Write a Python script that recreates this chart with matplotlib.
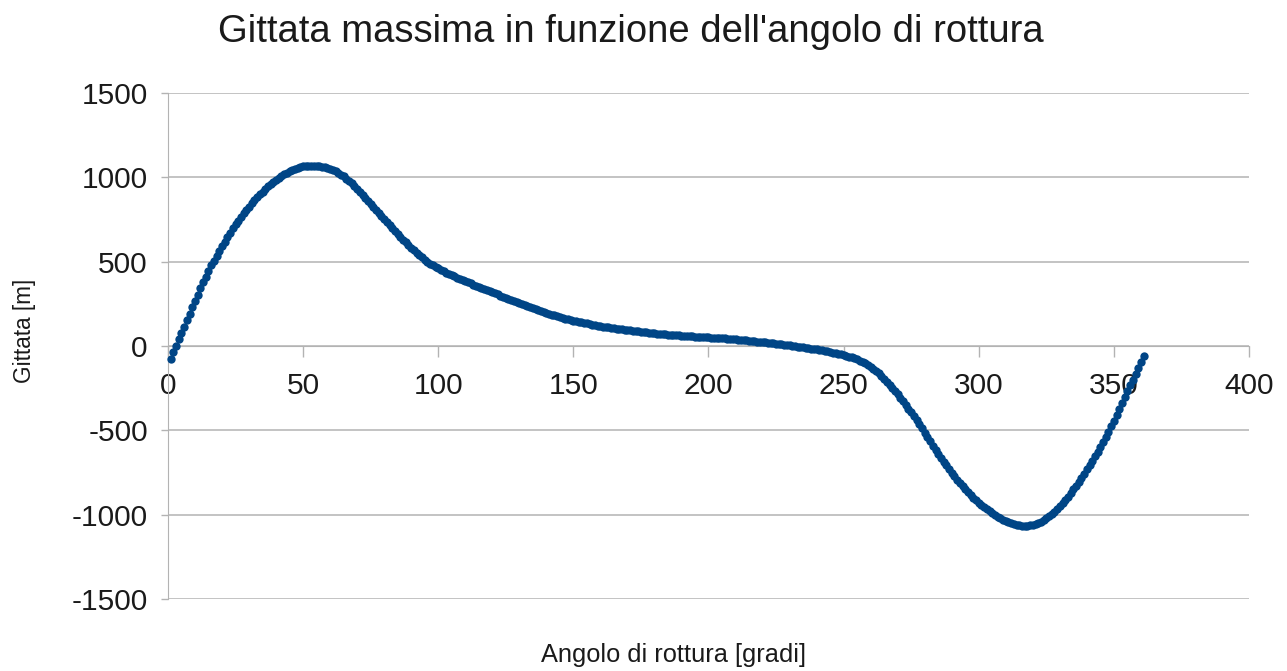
import matplotlib
matplotlib.use("Agg")
import matplotlib.pyplot as plt
import numpy as np

plt.rcParams['font.family'] = ['Liberation Sans', 'DejaVu Sans']
plt.rcParams['axes.unicode_minus'] = False

# --- data (one point per degree, 1..361) ---
angolo = np.arange(1, 362)

gittata = [
    -75, -37, 1, 39, 77, 115, 153, 191, 229, 267,
    304, 341, 377, 412, 446, 478, 506, 535, 563, 591,
    619, 646, 672, 697, 721, 744, 766, 787, 807, 827,
    847, 865, 883, 900, 916, 932, 946, 960, 973, 985,
    997, 1007, 1017, 1028, 1037, 1045, 1051, 1057, 1061, 1065,
    1067, 1069, 1069, 1069, 1068, 1066, 1063, 1059, 1054, 1048,
    1042, 1035, 1026, 1016, 1005, 993, 979, 964, 948, 931,
    914, 897, 879, 861, 843, 825, 807, 789, 771, 753,
    735, 717, 699, 682, 665, 648, 631, 615, 599, 583,
    568, 553, 539, 525, 512, 500, 489, 479, 469, 460,
    451, 443, 435, 427, 420, 413, 406, 399, 392, 385,
    378, 371, 364, 357, 350, 344, 338, 332, 326, 319,
    313, 306, 299, 292, 285, 278, 272, 265, 259, 253,
    247, 241, 235, 229, 223, 217, 212, 206, 201, 196,
    191, 186, 181, 176, 172, 167, 163, 159, 155, 151,
    147, 144, 140, 137, 134, 130, 127, 124, 120, 117,
    115, 112, 110, 108, 105, 103, 101, 98, 96, 94,
    92, 89, 88, 86, 84, 83, 81, 79, 78, 76,
    74, 73, 71, 69, 68, 67, 66, 64, 63, 62,
    61, 60, 59, 58, 56, 55, 54, 53, 52, 51,
    50, 49, 48, 47, 46, 45, 44, 42, 41, 39,
    38, 36, 34, 33, 31, 30, 28, 26, 25, 23,
    21, 19, 17, 15, 13, 11, 9, 7, 5, 3,
    1, -1, -3, -5, -8, -10, -13, -15, -18, -20,
    -23, -26, -29, -32, -35, -39, -42, -46, -50, -54,
    -58, -63, -68, -73, -79, -86, -94, -103, -113, -124,
    -136, -149, -163, -178, -194, -211, -229, -248, -267, -287,
    -307, -328, -349, -371, -393, -415, -438, -462, -487, -513,
    -539, -565, -590, -615, -639, -663, -686, -708, -730, -751,
    -772, -792, -812, -831, -849, -867, -884, -900, -915, -929,
    -943, -956, -968, -980, -991, -1001, -1011, -1020, -1029, -1037,
    -1044, -1050, -1055, -1060, -1064, -1066, -1067, -1066, -1064, -1060,
    -1055, -1049, -1041, -1032, -1022, -1010, -997, -983, -967, -950,
    -932, -913, -893, -872, -850, -828, -805, -781, -757, -732,
    -707, -681, -654, -627, -599, -569, -539, -508, -476, -443,
    -409, -374, -339, -304, -269, -234, -199, -164, -129, -95,
    -61,
]

x_ticks = [0, 50, 100, 150, 200, 250, 300, 350, 400]
y_ticks = [-1500, -1000, -500, 0, 500, 1000, 1500]

titolo = "Gittata massima in funzione dell'angolo di rottura"
label_x = "Angolo di rottura [gradi]"
label_y = "Gittata [m]"

GRID = '#b3b3b3'
BLUE = '#004586'
TEXT = '#1a1a1a'

fig = plt.figure(figsize=(12.87, 6.71), dpi=100)
ax = fig.add_axes([0.1305, 0.1073, 0.84, 0.7541])

ax.plot(angolo, gittata, linestyle='none', marker='o', markersize=6,
        color=BLUE, markeredgewidth=0, clip_on=False, zorder=5)

ax.set_xlim(0, 400)
ax.set_ylim(-1500, 1500)
ax.set_xticks(x_ticks)
ax.set_yticks(y_ticks)

# x axis crosses at zero, like the spreadsheet chart
ax.spines['bottom'].set_position(('data', 0))
ax.spines['bottom'].set_color(GRID)
ax.spines['left'].set_color(GRID)
ax.spines['top'].set_visible(False)
ax.spines['right'].set_visible(False)

ax.yaxis.grid(True, color=GRID, linewidth=1.1)
ax.set_axisbelow(True)

ax.tick_params(axis='x', direction='out', length=8, width=1, color=GRID,
               labelsize=21.5, labelcolor=TEXT, pad=10.5)
ax.tick_params(axis='y', direction='out', length=5, width=1, color=GRID,
               labelsize=21.5, labelcolor=TEXT, pad=9.5)

fig.text(0.49, 0.953, titolo, ha='center', va='center', fontsize=27.5, color=TEXT)
fig.text(0.523, 0.024, label_x, ha='center', va='center', fontsize=18.3, color=TEXT)
fig.text(0.019, 0.507, label_y, ha='center', va='center', rotation=90,
         fontsize=16.3, color=TEXT)

fig.savefig('out.png', dpi=100)
